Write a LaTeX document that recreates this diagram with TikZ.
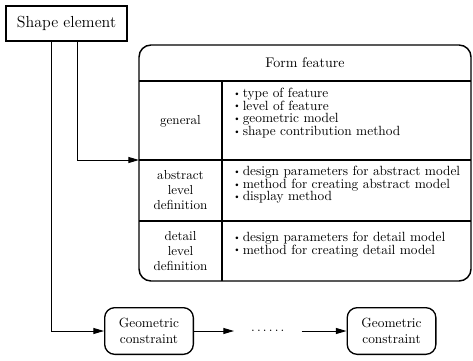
\documentclass[tikz,border=0pt]{standalone}
\usepackage{tikz}
\usetikzlibrary{arrows.meta, positioning, calc}
\newcommand{\listdot}{\raisebox{0.2ex}{\scalebox{0.7}{\textbullet}}\,}
\tikzset{
	elembox/.style   ={rectangle, draw=black, line width=1.1pt, minimum width=90.75pt, minimum height=26.25pt, align=center, font=\fontsize{12}{14}\selectfont},
	constrbox/.style ={rectangle, rounded corners=7.5pt, draw=black, line width=1pt, minimum width=66.5pt, minimum height=35pt, align=center, font=\fontsize{10}{12}\selectfont},
	featframe/.style ={draw=black, line width=1.1pt, rounded corners=9pt},
	cellrule/.style  ={draw=black, line width=0.9pt},
	% table cells of the feature frame
	cellhead/.style  ={align=center, inner sep=0pt, font=\fontsize{9.8}{11.25}\selectfont},
	celllist/.style  ={align=left, anchor=west, inner sep=0pt, font=\fontsize{10}{9.4}\selectfont},
	flowarrow/.style ={-{Triangle[length=8pt, width=4.5pt]}, line width=0.75pt},
}

\begin{document}
\begin{tikzpicture}[x=0.75pt, y=-0.75pt, node distance=30pt]
	\useasboundingbox (0,0) rectangle (473,360);
	\node[elembox] (se) at (66.5,23.5) {Shape element};

	% form feature frame and its rows
	\draw[featframe] (139,45) rectangle (471,281);
	\node[font=\fontsize{10.5}{12}\selectfont] (ffhead) at (305,63) {Form feature};
	\draw[cellrule] (139,81) -- (471,81);
	\draw[cellrule] (139,160) -- (471,160);
	\draw[cellrule] (139,221) -- (471,221);
	\draw[cellrule] (222,81) -- (222,281);
	\coordinate (genjoin) at (139,160);

	\node[cellhead] (lgen) at (180.5,121) {general};
	\node[cellhead] (labs) at (180.5,190.5) {abstract\\ level\\ definition};
	\node[cellhead] (ldet) at (180.5,251) {detail\\ level\\ definition};
	\node[celllist] (bgen) at (233,113) {\listdot type of feature\\ \listdot level of feature\\ \listdot geometric model\\ \listdot shape contribution method};
	\node[celllist] (babs) at (233,185) {\listdot design parameters for abstract model\\ \listdot method for creating abstract model\\ \listdot display method};
	\node[celllist] (bdet) at (233,244.5) {\listdot design parameters for detail model\\ \listdot method for creating detail model};

	% constraint chain
	\node[constrbox] (g1) at (149,331) {Geometric\\ constraint};
	\node[minimum width=50.25pt, inner sep=0pt, font=\fontsize{10}{12}\selectfont, right=of g1] (dots) {.\,.\,.\,.\,.\,.};
	\node[constrbox, right=33.75pt of dots] (g2) {Geometric\\ constraint};

	\draw[flowarrow] ([xshift=8.6pt]se.south) |- (genjoin);
	\draw[flowarrow] ([xshift=-10.9pt]se.south) |- (g1.west);
	\draw[flowarrow] (g1) -- (dots);
	\draw[flowarrow] (dots) -- (g2);
\end{tikzpicture}
\end{document}
